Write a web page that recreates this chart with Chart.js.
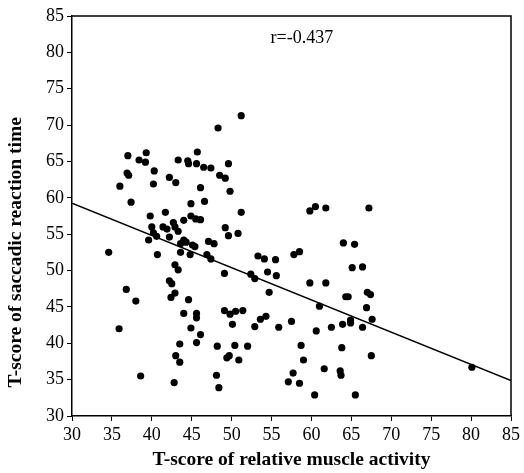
<!DOCTYPE html>
<html>
<head>
<meta charset="utf-8">
<script src="https://cdn.jsdelivr.net/npm/chart.js@4/dist/chart.umd.min.js"></script>
<style>
  body { margin: 0; background: #fff; }
  canvas { display: block; }
</style>
</head>
<body>
<canvas id="chart" width="524" height="473"></canvas>
<script>
//T-score of relative muscle activity, one value per subject
var muscleActivity = [
    51.2, 48.3, 37.0, 39.3, 38.4, 39.2, 45.7, 43.3, 44.5, 44.6, 45.6, 46.5, 47.4, 49.6, 40.3, 36.9, 37.1,
    42.2, 43.0, 40.2, 36.0, 48.5, 49.2, 46.1, 49.8, 37.4, 46.6, 44.9, 51.2, 41.7, 39.8, 44.9, 45.5, 46.1,
    44.0, 40.0, 41.4, 41.9, 42.7, 42.9, 43.3, 40.2, 40.6, 42.2, 49.2, 49.6, 50.8, 39.6, 44.0, 43.6, 44.3,
    45.1, 45.4, 47.1, 47.8, 40.7, 43.6, 44.8, 46.9, 47.4, 34.6, 53.3, 42.9, 43.3, 49.1, 52.4, 52.9, 42.2,
    42.5, 36.8, 38.0, 42.9, 42.4, 44.6, 44.0, 45.6, 45.6, 49.1, 49.8, 50.5, 51.4, 53.6, 50.1, 52.9, 35.9,
    44.9, 46.1, 43.5, 45.6, 48.2, 50.4, 52.0, 43.0, 43.5, 49.4, 49.7, 50.9, 38.6, 42.8, 48.1, 48.4,
    54.1, 55.5, 54.5, 55.6, 54.7, 54.3, 55.9, 57.5, 57.8, 58.5, 59.8, 60.5, 61.8, 67.2, 64.0, 65.4, 65.1,
    66.4, 59.8, 61.8, 64.3, 64.6, 67.0, 67.4, 61.0, 66.9, 67.6, 64.9, 64.9, 63.9, 66.4, 62.5, 60.6, 58.7,
    63.8, 67.5, 59.0, 61.6, 63.6, 63.7, 57.7, 57.1, 58.5, 60.4, 65.5, 80.1
];

//T-score of saccadic reaction time, same order as above
var reactionTime = [
    71.3, 69.6, 65.8, 66.2, 65.2, 64.9, 66.3, 65.2, 65.1, 64.7, 64.7, 64.2, 64.1, 64.7, 63.7, 63.4, 63.1,
    62.8, 62.1, 61.9, 61.6, 63.1, 62.7, 61.4, 60.9, 59.4, 59.5, 59.2, 58.0, 58.0, 57.5, 57.5, 57.1, 57.0,
    56.9, 56.0, 56.0, 55.7, 56.6, 56.0, 55.4, 55.2, 54.7, 54.6, 55.9, 54.8, 55.1, 54.2, 54.2, 53.7, 53.9,
    53.5, 53.3, 54.0, 53.7, 52.2, 52.5, 52.2, 52.2, 51.6, 52.5, 52.0, 50.8, 50.1, 49.6, 49.5, 48.9, 48.6,
    48.2, 47.4, 45.8, 46.9, 46.3, 46.0, 44.1, 44.1, 43.5, 44.5, 44.0, 44.4, 44.5, 43.3, 42.6, 42.3, 42.0,
    42.1, 41.2, 39.9, 40.1, 39.6, 39.7, 39.6, 38.3, 37.4, 38.0, 38.3, 37.7, 35.5, 34.6, 35.6, 33.9,
    51.6, 51.5, 49.8, 49.3, 47.0, 43.7, 42.2, 43.0, 52.2, 52.6, 58.2, 58.8, 58.6, 58.6, 53.8, 53.6, 50.4,
    50.5, 48.3, 48.3, 46.4, 46.4, 47.0, 46.7, 45.1, 44.9, 43.3, 43.2, 42.8, 42.6, 42.2, 42.2, 41.7, 39.7,
    39.4, 38.3, 37.7, 36.5, 36.2, 35.6, 35.9, 34.7, 34.5, 32.9, 32.9, 36.7
];

//regression line, read at both ends of the x axis
var fitX = [30, 85];
var fitY = [59.25, 34.86];

//correlation shown in the plot
var corrText = 'r=-0.437';
var yTitle = 'T-score of saccadic reaction time';
var xTitle = 'T-score of relative muscle activity';

var serif = "'Liberation Serif', 'Times New Roman', serif";

//build the point lists chart.js wants
var scatterPoints = muscleActivity.map(function(x, i){
    return {x: x, y: reactionTime[i]};
});
var fitPoints = fitX.map(function(x, i){
    return {x: x, y: fitY[i]};
});

//draws the top and right sides of the box, the r value and the y title
var framePlugin = {
    id: 'frame',
    afterDatasetsDraw: function(chart){
        var c = chart.ctx;
        var a = chart.chartArea;
        c.save();
        c.strokeStyle = '#000';
        c.lineWidth = 1.5;
        c.beginPath();
        c.moveTo(a.left, a.top);
        c.lineTo(a.right, a.top);
        c.lineTo(a.right, a.bottom);
        c.stroke();

        c.fillStyle = '#000';
        c.font = '18px ' + serif;
        c.textAlign = 'center';
        c.textBaseline = 'middle';
        c.fillText(corrText, chart.scales.x.getPixelForValue(58.8), chart.scales.y.getPixelForValue(82));

        //y title sits a bit below the middle of the axis in the original
        c.font = 'bold 19.5px ' + serif;
        c.translate(16, chart.scales.y.getPixelForValue(52.5));
        c.rotate(-Math.PI / 2);
        c.fillText(yTitle, 0, 0);
        c.restore();
    }
};

function axisOptions(titleText, fitFn)
{
    return {
        type: 'linear',
        min: 30,
        max: 85,
        ticks: {
            stepSize: 5,
            color: '#000',
            padding: 3,
            maxRotation: 0,
            font: {family: serif, size: 18}
        },
        grid: {
            drawOnChartArea: false,
            tickLength: 5,
            tickColor: '#000',
            tickWidth: 1
        },
        border: {color: '#000', width: 1.5},
        title: {
            display: titleText !== '',
            text: titleText,
            color: '#000',
            font: {family: serif, size: 19.5, weight: 'bold'},
            padding: {top: 4, bottom: 1}
        },
        afterFit: fitFn
    };
}

var chart = new Chart(document.getElementById('chart'), {
    type: 'scatter',
    data: {
        datasets: [
            {
                data: scatterPoints,
                backgroundColor: '#000',
                borderWidth: 0,
                pointRadius: 3.6,
                pointHoverRadius: 3.6
            },
            {
                type: 'line',
                data: fitPoints,
                borderColor: '#000',
                borderWidth: 1.5,
                pointRadius: 0,
                fill: false
            }
        ]
    },
    options: {
        responsive: false,
        animation: false,
        layout: {padding: {left: 0, right: 13, top: 16, bottom: 0}},
        plugins: {
            legend: {display: false},
            tooltip: {enabled: false}
        },
        scales: {
            x: axisOptions(xTitle, function(s){ s.height = 57; }),
            y: axisOptions('', function(s){ s.width = 72; })
        }
    },
    plugins: [framePlugin]
});
</script>
</body>
</html>
